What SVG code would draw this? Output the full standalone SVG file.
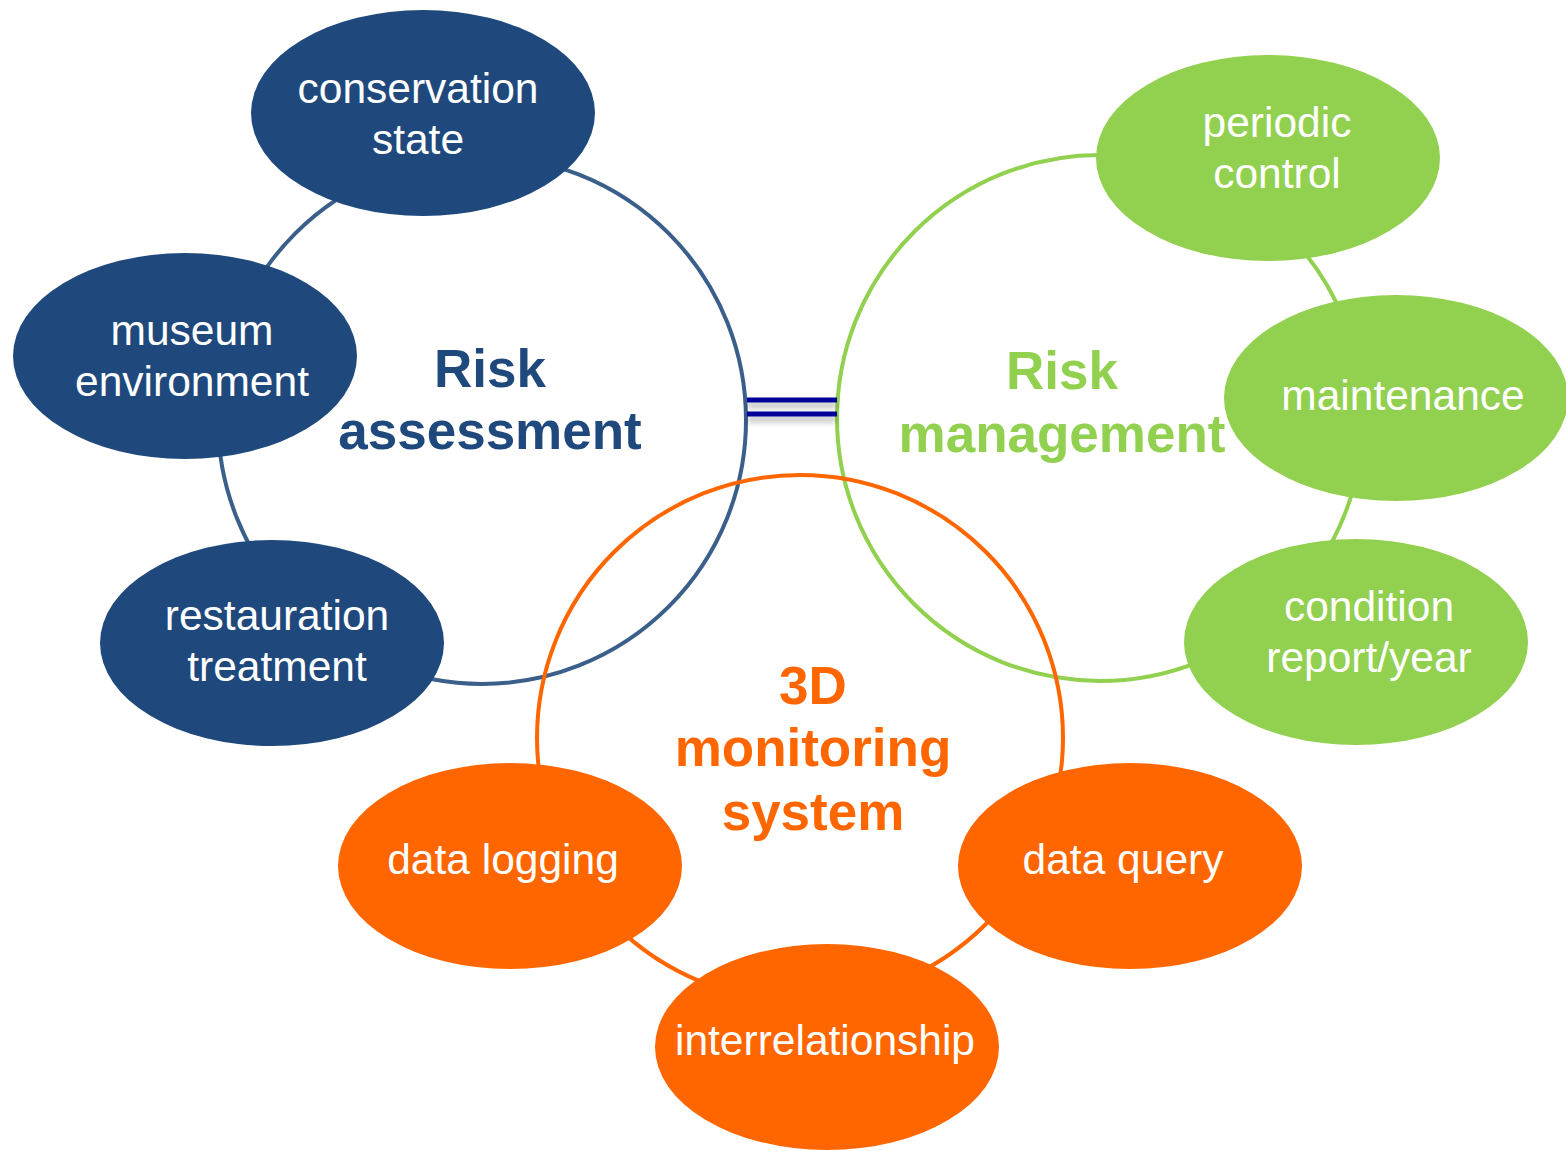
<svg xmlns="http://www.w3.org/2000/svg" width="1566" height="1151" viewBox="0 0 1566 1151">
<style>
.ring{fill:none;stroke-width:4}
.lbl{font-family:"Liberation Sans",Arial,sans-serif;font-size:42.5px;fill:#fff;text-anchor:middle}
.ttl{font-family:"Liberation Sans",Arial,sans-serif;font-size:53px;font-weight:bold;text-anchor:middle}
.b{fill:#1F497D}.g{fill:#92D050}.o{fill:#FF6600}
</style>
<defs>
<filter id="sh" x="-20%" y="-100%" width="140%" height="400%">
<feDropShadow dx="0" dy="5" stdDeviation="3" flood-color="#000" flood-opacity="0.3"/>
</filter>
</defs>
<g id="connectors">
<circle class="ring" cx="482" cy="420" r="264" stroke="#3A5F8B"/>
<circle class="ring" cx="1100" cy="418" r="263" stroke="#92D050"/>
<circle class="ring" cx="800" cy="738" r="263" stroke="#FF6600"/>
<g filter="url(#sh)" stroke="#000099" stroke-width="5">
<line x1="747" y1="400" x2="837" y2="400"/>
<line x1="747" y1="414" x2="837" y2="414"/>
</g>
</g>
<g id="title-assessment"><text class="ttl" fill="#1F497D"><tspan x="490" y="387">Risk</tspan><tspan x="490" y="449">assessment</tspan></text></g>
<g id="title-management"><text class="ttl" fill="#92D050"><tspan x="1062" y="389">Risk</tspan><tspan x="1062" y="452">management</tspan></text></g>
<g id="title-monitoring"><text class="ttl" fill="#FF6600"><tspan x="813" y="704">3D</tspan><tspan x="813" y="766">monitoring</tspan><tspan x="813" y="830">system</tspan></text></g>
<g id="conservation-state"><ellipse class="b" cx="423" cy="113" rx="172" ry="103"/><text class="lbl"><tspan x="418" y="103">conservation</tspan><tspan x="418" y="154">state</tspan></text></g>
<g id="museum-environment"><ellipse class="b" cx="185" cy="356" rx="172" ry="103"/><text class="lbl"><tspan x="192" y="345">museum</tspan><tspan x="192" y="396">environment</tspan></text></g>
<g id="restauration-treatment"><ellipse class="b" cx="272" cy="643" rx="172" ry="103"/><text class="lbl"><tspan x="277" y="630">restauration</tspan><tspan x="277" y="681">treatment</tspan></text></g>
<g id="periodic-control"><ellipse class="g" cx="1268" cy="158" rx="172" ry="103"/><text class="lbl"><tspan x="1277" y="137">periodic</tspan><tspan x="1277" y="188">control</tspan></text></g>
<g id="maintenance"><ellipse class="g" cx="1396" cy="398" rx="172" ry="103"/><text class="lbl" x="1403" y="410">maintenance</text></g>
<g id="condition-report"><ellipse class="g" cx="1356" cy="642" rx="172" ry="103"/><text class="lbl"><tspan x="1369" y="621">condition</tspan><tspan x="1369" y="672">report/year</tspan></text></g>
<g id="data-logging"><ellipse class="o" cx="510" cy="866" rx="172" ry="103"/><text class="lbl" x="503" y="874">data logging</text></g>
<g id="data-query"><ellipse class="o" cx="1130" cy="866" rx="172" ry="103"/><text class="lbl" x="1123" y="874">data query</text></g>
<g id="interrelationship"><ellipse class="o" cx="827" cy="1047" rx="172" ry="103"/><text class="lbl" x="825" y="1055">interrelationship</text></g>
</svg>
